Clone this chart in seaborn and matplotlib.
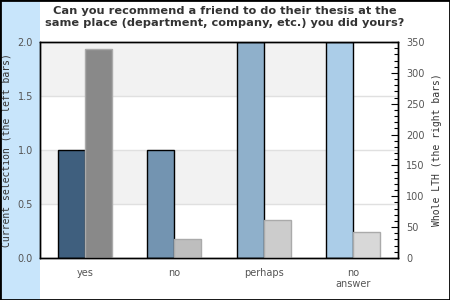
import matplotlib
matplotlib.use("Agg")
import matplotlib.pyplot as plt
import seaborn as sns
import pandas as pd
from matplotlib.patches import Rectangle
from matplotlib.ticker import MultipleLocator

categories = ["yes", "no", "perhaps", "no\nanswer"]
current_values = [1.0, 1.0, 2.0, 2.0]
whole_values = [338, 31, 62, 42]
left_colors = ["#3f5f7e", "#7394b1", "#8fb0cb", "#abcde8"]
right_colors = ["#898989", "#bebebe", "#cccccc", "#d8d8d8"]
left_ticks = [0.0, 0.5, 1.0, 1.5, 2.0]
right_ticks = [0, 50, 100, 150, 200, 250, 300, 350]

sns.set_theme(style="white")
plt.rcParams["font.family"] = ["DejaVu Sans"]

df = pd.DataFrame({"cat": categories, "current": current_values, "whole": whole_values})

fig = plt.figure(figsize=(4.5, 3.0), dpi=100)
fig.patches.append(Rectangle((0, 0), 40 / 450, 1, transform=fig.transFigure,
                             facecolor="#c8e5fb", edgecolor="none", zorder=-5))

ax = fig.add_axes([40 / 450, 1 - 258 / 300, 358 / 450, 216 / 300])
ax.set_facecolor("white")
# alternating bands
for i in range(len(left_ticks) - 1):
    if i % 2 == 1:
        ax.axhspan(left_ticks[i], left_ticks[i + 1], color="#f2f2f2", zorder=0, lw=0)
for t in left_ticks[1:-1]:
    ax.axhline(t, color="#e0e0e0", lw=1, zorder=0.5)

bw = 0.30
sns.barplot(data=df, x="cat", y="current", hue="cat", palette=left_colors,
            width=bw, ax=ax, legend=False, edgecolor="black", linewidth=1,
            saturation=1, zorder=2)
for p in ax.patches:
    p.set_x(p.get_x() - bw / 2)

ax.set_ylim(0, 2.0)
ax.set_xlim(-0.5, len(categories) - 0.5)
ax.set_yticks(left_ticks)
ax.set_yticklabels([f"{v:.1f}" for v in left_ticks])
ax.tick_params(axis="y", length=0, pad=5, labelsize=7, labelcolor="#555555")
ax.tick_params(axis="x", length=0, pad=7, labelsize=7, labelcolor="#555555")
ax.set_xlabel("")
ax.set_ylabel("Current selection (the left bars)", family="DejaVu Sans Mono",
              fontsize=7, color="#333333")
ax.yaxis.set_label_coords(-28 / 358, 0.5)
for s in ax.spines.values():
    s.set_color("black")
    s.set_linewidth(1)

ax2 = ax.twinx()
sns.barplot(data=df, x="cat", y="whole", hue="cat", palette=right_colors,
            width=bw, ax=ax2, legend=False, edgecolor="#aaaaaa", linewidth=1,
            saturation=1, zorder=2)
for p in ax2.patches:
    p.set_x(p.get_x() + bw / 2)
ax2.set_ylim(0, 350)
ax2.set_xlim(-0.5, len(categories) - 0.5)
ax2.set_yticks(right_ticks)
ax2.yaxis.set_minor_locator(MultipleLocator(10))
ax2.tick_params(axis="y", which="major", direction="in", length=5, width=0.8,
                color="black", pad=6, labelsize=7, labelcolor="#555555")
ax2.tick_params(axis="y", which="minor", direction="in", length=3, width=0.8,
                color="black")
ax2.set_ylabel("Whole LTH (the right bars)", family="DejaVu Sans Mono",
               fontsize=7, color="#333333")
ax2.yaxis.set_label_coords(1 + 34 / 358, 0.5)
ax2.set_xlabel("")
for s in ax2.spines.values():
    s.set_color("black")
    s.set_linewidth(1)

fig.text(0.5, 1 - 6 / 300,
         "Can you recommend a friend to do their thesis at the\nsame place (department, company, etc.) you did yours?",
         ha="center", va="top", fontsize=8.2, fontweight="bold", color="#333333",
         family="DejaVu Sans", linespacing=1.25)

fig.patches.append(Rectangle((0, 0), 1, 1, transform=fig.transFigure,
                             facecolor="none", edgecolor="black", lw=2, zorder=10))

fig.savefig("out.png", dpi=100)
